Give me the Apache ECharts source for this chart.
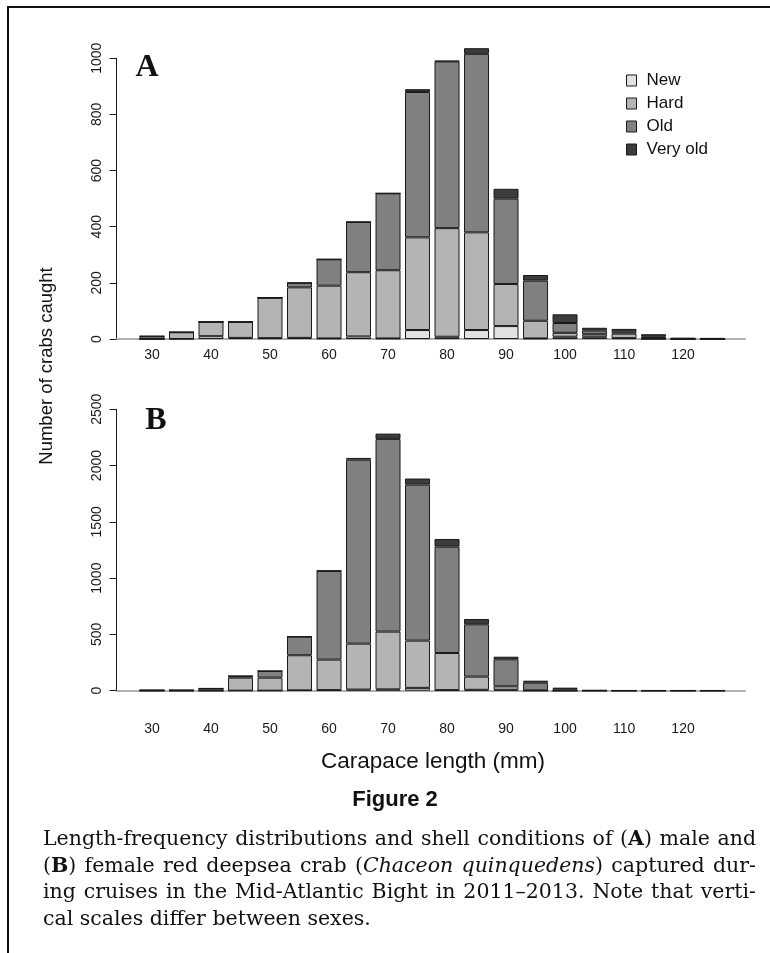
<!DOCTYPE html>
<html>
<head>
<meta charset="utf-8">
<script src="https://cdn.jsdelivr.net/npm/echarts@6/dist/echarts.min.js"></script>
<style>
html, body { margin: 0; padding: 0; background: #fff; }
#chart { width: 770px; height: 953px; }
</style>
</head>
<body>
<div id="chart"></div>
<script>
// carapace length bins (mm), one bar per 5 mm
var lengths = [30, 35, 40, 45, 50, 55, 60, 65, 70, 75, 80, 85, 90, 95, 100, 105, 110, 115, 120, 125];
var xTicks = [30, 40, 50, 60, 70, 80, 90, 100, 110, 120];

// A: males
var maleNew     = [0, 0, 10, 4, 3, 4, 2, 9, 2, 32, 8, 32, 46, 2, 8, 8, 3, 0, 0, 0];
var maleHard    = [0, 24, 51, 57, 144, 180, 188, 229, 243, 330, 387, 348, 150, 63, 14, 9, 16, 3, 0, 0];
var maleOld     = [10, 0, 0, 0, 0, 16, 94, 179, 274, 518, 594, 636, 304, 143, 35, 13, 7, 5, 1, 1];
var maleVeryOld = [0, 0, 0, 0, 0, 0, 0, 0, 0, 10, 2, 20, 35, 20, 31, 10, 10, 9, 3, 2];

// B: females
var femaleNew     = [0, 0, 0, 0, 0, 3, 5, 10, 12, 25, 5, 8, 8, 0, 0, 0, 0, 0, 0, 0];
var femaleHard    = [0, 0, 0, 116, 116, 312, 271, 408, 513, 420, 330, 117, 31, 2, 0, 0, 0, 0, 0, 0];
var femaleOld     = [5, 5, 20, 14, 59, 165, 788, 1635, 1712, 1386, 945, 465, 240, 69, 12, 3, 2, 2, 2, 2];
var femaleVeryOld = [0, 0, 0, 0, 0, 0, 3, 15, 47, 54, 68, 47, 23, 18, 15, 0, 0, 0, 0, 0];

var shellLabels = ['New', 'Hard', 'Old', 'Very old'];
var shellColors = ['#e2e2e2', '#b4b4b4', '#808080', '#3c3c3c'];

var captionLines = [
    'Length-frequency distributions and shell conditions of (*A*) male and',
    '(*B*) female red deepsea crab (_Chaceon quinquedens_) captured dur-',
    'ing cruises in the Mid-Atlantic Bight in 2011\u20132013. Note that verti-',
    'cal scales differ between sexes.'
];

// count first, length second, so the stack runs on the count
var pairs = function(values) {
    return lengths.map(function(x, i) { return [values[i], x]; });
};

var series = [];
[[maleNew, maleHard, maleOld, maleVeryOld], [femaleNew, femaleHard, femaleOld, femaleVeryOld]].forEach(function(sets, p) {
    sets.forEach(function(values, k) {
        series.push({
            name: shellLabels[k],
            type: 'bar',
            xAxisIndex: p,
            yAxisIndex: p,
            stack: 'panel' + p,
            barWidth: 25,
            clip: false,
            encode: { x: 1, y: 0 },
            itemStyle: { color: shellColors[k], borderColor: '#1a1a1a', borderWidth: 1 },
            data: pairs(values)
        });
    });
});

var xAxis = function(gridIndex, margin) {
    return {
        type: 'value', gridIndex: gridIndex, min: 24, max: 130.5,
        axisLine: { show: true, onZero: false, lineStyle: { color: '#b0b0b0', width: 2 } },
        axisTick: { show: false },
        splitLine: { show: false },
        axisLabel: { customValues: xTicks, margin: margin, fontSize: 14, color: '#1a1a1a', fontFamily: 'Liberation Sans' }
    };
};
var yAxis = function(gridIndex, max, interval) {
    return {
        type: 'value', gridIndex: gridIndex, min: 0, max: max, interval: interval,
        axisLine: { show: true, lineStyle: { color: '#1a1a1a', width: 1 } },
        axisTick: { show: true, length: 7, lineStyle: { color: '#1a1a1a' } },
        splitLine: { show: false },
        axisLabel: {
            rotate: 90, margin: 12, fontSize: 14, color: '#1a1a1a', fontFamily: 'Liberation Sans',
            formatter: function(v) { return String(v); }
        }
    };
};

// caption: justified lines, words split into normal / bold / italic runs
var captionFont = function(style) {
    return (style === 'b' ? 'bold ' : '') + (style === 'i' ? 'italic ' : '') + '20.5px "DejaVu Serif"';
};
var ctx = document.createElement('canvas').getContext('2d');
var measure = function(text, style) { ctx.font = captionFont(style); return ctx.measureText(text).width; };

var parseLine = function(line) {
    var words = [], runs = [], cur = '', style = 'n';
    var flush = function() { if (cur) { runs.push({ text: cur, style: style }); cur = ''; } };
    for (var i = 0; i < line.length; i++) {
        var c = line[i];
        if (c === '*' || c === '_') {
            flush();
            var s = c === '*' ? 'b' : 'i';
            style = style === s ? 'n' : s;
        } else if (c === ' ') {
            flush();
            if (runs.length) words.push(runs);
            runs = [];
        } else {
            cur += c;
        }
    }
    flush();
    if (runs.length) words.push(runs);
    return words;
};

var centered = function(text, font, x, y, extra) {
    var el = { type: 'text', x: x, y: y, style: { text: text, font: font, fill: '#111',
        align: 'center', verticalAlign: 'middle', textAlign: 'center', textVerticalAlign: 'middle' } };
    if (extra) el.rotation = extra;
    return el;
};

var graphics = [
    { type: 'polyline', shape: { points: [[8, 953], [8, 7], [770, 7]] }, style: { stroke: '#111', lineWidth: 2, fill: null } },
    centered('A', 'bold 32px "Liberation Serif"', 147, 68),
    centered('B', 'bold 32px "Liberation Serif"', 156, 421),
    centered('Number of crabs caught', '18.5px "Liberation Sans"', 47, 366, Math.PI / 2),
    centered('Carapace length (mm)', '22.5px "Liberation Sans"', 433, 762),
    centered('Figure 2', 'bold 22px "Liberation Sans"', 395, 800)
];

var capLeft = 43, capRight = 756, capTop = 840, capStep = 26.5;
captionLines.forEach(function(line, li) {
    var words = parseLine(line);
    var widths = words.map(function(runs) {
        return runs.reduce(function(s, r) { return s + measure(r.text, r.style); }, 0);
    });
    var total = widths.reduce(function(a, b) { return a + b; }, 0);
    var gap = li < captionLines.length - 1 ? (capRight - capLeft - total) / (words.length - 1) : measure(' ', 'n');
    var x = capLeft;
    words.forEach(function(runs, wi) {
        var rx = x;
        runs.forEach(function(r) {
            graphics.push({ type: 'text', x: rx, y: capTop + li * capStep, style: {
                text: r.text, font: captionFont(r.style), fill: '#111',
                align: 'left', verticalAlign: 'middle', textAlign: 'left', textVerticalAlign: 'middle' } });
            rx += measure(r.text, r.style);
        });
        x += widths[wi] + gap;
    });
});

var myChart = echarts.init(document.getElementById('chart'));
var option = {
    animation: false,
    backgroundColor: '#fff',
    grid: [
        { left: 116.6, top: 58.3, width: 628.4, height: 280.7 },
        { left: 116.6, top: 409.3, width: 628.4, height: 281.4 }
    ],
    xAxis: [xAxis(0, 9), xAxis(1, 31)],
    yAxis: [yAxis(0, 1000, 200), yAxis(1, 2500, 500)],
    legend: {
        data: shellLabels,
        orient: 'vertical',
        left: 626,
        top: 72,
        padding: 0,
        itemWidth: 10,
        itemHeight: 11,
        itemGap: 6,
        icon: 'rect',
        selectedMode: false,
        itemStyle: { borderColor: '#1a1a1a', borderWidth: 1 },
        textStyle: { fontFamily: 'Liberation Sans', fontSize: 17, lineHeight: 17, color: '#111', padding: [0, 0, 0, 5] }
    },
    graphic: graphics,
    series: series
};
myChart.setOption(option);
</script>
</body>
</html>
